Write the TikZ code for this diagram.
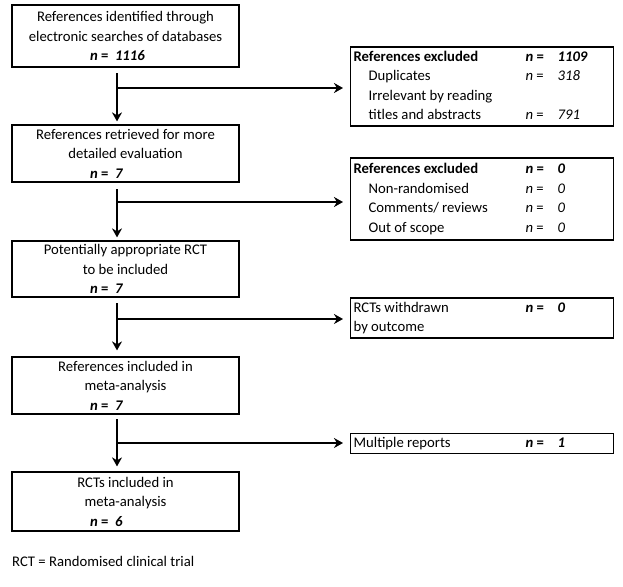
\documentclass[tikz,border=0pt]{standalone}
\usepackage{fontspec}
\setmainfont{Carlito}
\usetikzlibrary{arrows.meta}
\tikzset{
  leftbox/.style={draw, line width=1.2pt, minimum width=227pt, align=center, inner sep=0pt, font=\fontsize{14.7}{19.5}\selectfont},
  rightbox/.style={draw, line width=1.2pt, anchor=west, inner xsep=3pt, inner ysep=0pt, font=\fontsize{14.7}{19.5}\selectfont},
  flow/.style={line width=2.8pt, -{Stealth[length=9pt,width=10pt]}},
  bar/.style={line width=2.8pt},
}
\newcommand{\nbold}[1]{\makebox[71pt][l]{\textbf{\textit{n} =~~\textit{#1}}}}
\newcommand{\ind}{\hspace*{15pt}}
\begin{document}
\begin{tikzpicture}[x=1pt,y=-1pt]
\useasboundingbox[fill=white] (0,0) rectangle (623,586);
% main flow
\node[leftbox, minimum height=62pt] (b1) at (125.5,36) {References identified through\\electronic searches of databases\\\nbold{1116}};
\node[leftbox, minimum height=57pt] (b2) at (125.5,153.5) {References retrieved for more\\detailed evaluation\\\nbold{7}};
\node[leftbox, minimum height=56pt] (b3) at (125.5,269) {Potentially appropriate RCT\\to be included\\\nbold{7}};
\node[leftbox, minimum height=57pt] (b4) at (125.5,385.5) {References included in\\meta-analysis\\\nbold{7}};
\node[leftbox, minimum height=59pt] (b5) at (125.5,501.5) {RCTs included in\\meta-analysis\\\nbold{6}};
% exclusions
\node[rightbox, minimum height=79pt] (r1) at (350,86.5) {\begin{tabular}{@{}p{172pt}@{}p{32pt}@{}p{53pt}@{}}
\textbf{References excluded} & \textbf{\textit{n} =} & \textbf{\textit{1109}}\\
\ind Duplicates & \textit{n} = & \textit{318}\\
\ind Irrelevant by reading & & \\
\ind titles and abstracts & \textit{n} = & \textit{791}
\end{tabular}};
\node[rightbox, minimum height=82pt] (r2) at (350,199) {\begin{tabular}{@{}p{172pt}@{}p{32pt}@{}p{53pt}@{}}
\textbf{References excluded} & \textbf{\textit{n} =} & \textbf{\textit{0}}\\
\ind Non-randomised & \textit{n} = & \textit{0}\\
\ind Comments/ reviews & \textit{n} = & \textit{0}\\
\ind Out of scope & \textit{n} = & \textit{0}
\end{tabular}};
\node[rightbox, minimum height=40pt] (r3) at (350,318) {\begin{tabular}{@{}p{172pt}@{}p{32pt}@{}p{53pt}@{}}
RCTs withdrawn & \textbf{\textit{n} =} & \textbf{\textit{0}}\\
by outcome & &
\end{tabular}};
\node[rightbox, minimum height=19.5pt] (r4) at (350,443.5) {\begin{tabular}{@{}p{172pt}@{}p{32pt}@{}p{53pt}@{}}
Multiple reports & \textbf{\textit{n} =} & \textbf{\textit{1}}
\end{tabular}};
\node[anchor=west, inner sep=0pt, font=\fontsize{14.7}{18}\selectfont] (note) at (12,561) {RCT = Randomised clinical trial};
% arrows
\coordinate (t1) at (117,73);
\coordinate (j1) at (117,88);
\coordinate (t2) at (117,189);
\coordinate (j2) at (117,202);
\coordinate (t3) at (117,303);
\coordinate (j3) at (117,319);
\coordinate (t4) at (117,419);
\coordinate (j4) at (117,443);
\draw[flow, shorten >=3pt] (t1) -- (t1 |- b2.north);
\draw[flow, shorten >=7pt] (j1) -- (j1 -| r1.west);
\draw[flow, shorten >=3pt] (t2) -- (t2 |- b3.north);
\draw[flow, shorten >=7pt] (j2) -- (j2 -| r2.west);
\draw[flow, shorten >=6pt] (t3) -- (t3 |- b4.north);
\draw[flow, shorten >=7pt] (j3) -- (j3 -| r3.west);
\draw[flow, shorten >=5pt] (t4) -- (t4 |- b5.north);
\draw[flow, shorten >=7pt] (j4) -- (j4 -| r4.west);
\end{tikzpicture}
\end{document}
